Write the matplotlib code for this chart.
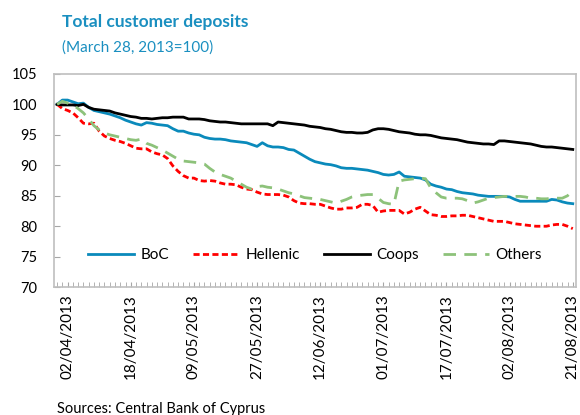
import numpy as np
import matplotlib
matplotlib.use('Agg')
import matplotlib.pyplot as plt

plt.rcParams['font.family'] = ['Lato', 'DejaVu Sans']

# business days from 28/03/2013 to 21/08/2013 (99 points), labels every 12 points
tick_pos = [2, 14, 26, 38, 50, 62, 74, 86, 98]
tick_labels = ['02/04/2013', '18/04/2013', '09/05/2013', '27/05/2013', '12/06/2013',
               '01/07/2013', '17/07/2013', '02/08/2013', '21/08/2013']

boc = [100, 100.7, 100.7, 100.4, 100.1, 100.2, 99.5, 99.0, 98.8, 98.6,
       98.4, 98.1, 97.8, 97.4, 97.1, 96.8, 96.6, 97.0, 96.9, 96.7,
       96.6, 96.5, 96.0, 95.6, 95.6, 95.3, 95.1, 95.0, 94.6, 94.4,
       94.3, 94.3, 94.2, 94.0, 93.9, 93.8, 93.7, 93.4, 93.1, 93.7,
       93.2, 93.0, 93.0, 92.9, 92.6, 92.5, 92.0, 91.5, 91.0, 90.6,
       90.4, 90.2, 90.1, 89.9, 89.6, 89.5, 89.5, 89.4, 89.3, 89.2,
       89.0, 88.8, 88.5, 88.4, 88.5, 88.9, 88.2, 88.1, 88.0, 87.9,
       87.6, 86.9, 86.6, 86.4, 86.1, 86.0, 85.7, 85.5, 85.4, 85.3,
       85.1, 85.0, 84.9, 84.9, 84.9, 84.9, 84.8, 84.4, 84.1, 84.1,
       84.1, 84.1, 84.1, 84.1, 84.4, 84.3, 84.0, 83.8, 83.7]

hellenic = [100, 99.3, 99.0, 98.6, 97.8, 96.9, 96.8, 96.9, 95.6, 94.8,
            94.4, 94.1, 93.9, 93.6, 93.2, 92.8, 92.7, 92.7, 92.2, 91.9,
            91.7, 91.1, 89.9, 89.0, 88.3, 87.9, 87.9, 87.5, 87.4, 87.5,
            87.4, 87.1, 86.9, 86.9, 86.8, 86.4, 86.1, 86.0, 85.6, 85.3,
            85.2, 85.2, 85.2, 85.1, 84.8, 84.2, 83.8, 83.7, 83.7, 83.6,
            83.6, 83.3, 83.0, 82.8, 82.8, 83.0, 83.0, 83.1, 83.6, 83.6,
            83.4, 82.3, 82.5, 82.6, 82.6, 82.6, 82.0, 82.3, 82.8, 83.1,
            82.5, 81.9, 81.8, 81.6, 81.6, 81.7, 81.7, 81.8, 81.8, 81.6,
            81.4, 81.2, 81.0, 80.8, 80.8, 80.8, 80.6, 80.4, 80.3, 80.2,
            80.1, 80.0, 80.0, 80.0, 80.2, 80.3, 80.3, 80.0, 79.6]

coops = [100, 99.9, 99.9, 99.9, 99.8, 100.0, 99.5, 99.2, 99.1, 99.0,
         98.9, 98.6, 98.4, 98.2, 98.0, 97.9, 97.7, 97.7, 97.6, 97.7,
         97.8, 97.8, 97.9, 97.9, 97.9, 97.6, 97.6, 97.6, 97.5, 97.3,
         97.2, 97.1, 97.1, 97.0, 96.9, 96.8, 96.8, 96.8, 96.8, 96.8,
         96.8, 96.5, 97.1, 97.0, 96.9, 96.8, 96.7, 96.6, 96.4, 96.3,
         96.2, 96.0, 95.9, 95.7, 95.5, 95.4, 95.4, 95.3, 95.3, 95.4,
         95.8, 96.0, 96.0, 95.9, 95.7, 95.5, 95.4, 95.3, 95.1, 95.0,
         95.0, 94.9, 94.7, 94.5, 94.4, 94.3, 94.2, 94.0, 93.8, 93.7,
         93.6, 93.5, 93.5, 93.4, 94.0, 94.0, 93.9, 93.8, 93.7, 93.6,
         93.5, 93.3, 93.1, 93.0, 93.0, 92.9, 92.8, 92.7, 92.6]

others = [100, 100.5, 100.2, 99.9, 99.3, 98.6, 97.6, 96.5, 95.8, 95.3,
          95.0, 94.8, 94.6, 94.4, 94.2, 94.1, 94.3, 93.6, 93.3, 92.9,
          92.5, 92.0, 91.5, 91.0, 90.7, 90.6, 90.5, 90.4, 90.2, 89.5,
          88.9, 88.5, 88.2, 87.9, 87.4, 86.9, 86.4, 86.1, 86.5, 86.6,
          86.4, 86.3, 86.1, 85.8, 85.5, 85.3, 85.0, 84.7, 84.6, 84.5,
          84.4, 84.2, 84.0, 83.8, 84.1, 84.4, 84.8, 85.0, 85.1, 85.2,
          85.2, 84.6, 83.9, 83.7, 83.6, 87.4, 87.6, 87.7, 87.8, 87.9,
          87.8, 86.3, 85.5, 84.8, 84.6, 84.6, 84.6, 84.5, 84.2, 83.8,
          84.0, 84.3, 84.6, 84.7, 84.8, 84.9, 84.9, 84.9, 84.9, 84.8,
          84.6, 84.6, 84.5, 84.5, 84.6, 84.6, 84.6, 85.0, 85.8]

x = np.arange(len(boc))

fig = plt.figure(figsize=(5.8, 4.15), dpi=100)
ax = fig.add_axes([0.093, 0.308, 0.9, 0.514])

lw = 2.0
ax.plot(x, boc, color='#0a8abb', linewidth=lw, label='BoC')
ax.plot(x, hellenic, color='#ff0000', linewidth=lw, linestyle=(0, (2.2, 1.2)), label='Hellenic')
ax.plot(x, coops, color='black', linewidth=lw, label='Coops')
ax.plot(x, others, color='#8dc27a', linewidth=lw, linestyle=(0, (4.5, 3)), label='Others')

ax.set_xlim(-0.6, 98.6)
ax.set_ylim(70, 105)
ax.set_yticks(np.arange(70, 106, 5))

ax.set_xticks(tick_pos)
ax.set_xticklabels(tick_labels, rotation=90, fontsize=11)
ax.set_xticks(x, minor=True)
ax.tick_params(axis='x', which='both', direction='in', length=3.5, color='#a6a6a6', pad=5)
ax.tick_params(axis='y', direction='in', length=4, color='#a6a6a6', labelsize=10.5, pad=12)

for s in ax.spines.values():
    s.set_color('#bfbfbf')
    s.set_linewidth(1.2)

ax.legend(loc='center', bbox_to_anchor=(0.5, 0.15), ncol=4, frameon=False,
          fontsize=11, handlelength=3.0, handletextpad=0.4, columnspacing=1.6)

fig.text(0.107, 0.935, 'Total customer deposits', fontsize=12.5, fontweight='bold', color='#1a8fc0')
fig.text(0.107, 0.875, '(March 28, 2013=100)', fontsize=11, color='#1a8fc0')
fig.text(0.098, 0.005, 'Sources: Central Bank of Cyprus', fontsize=10.5)

fig.savefig('out.png', dpi=100)
